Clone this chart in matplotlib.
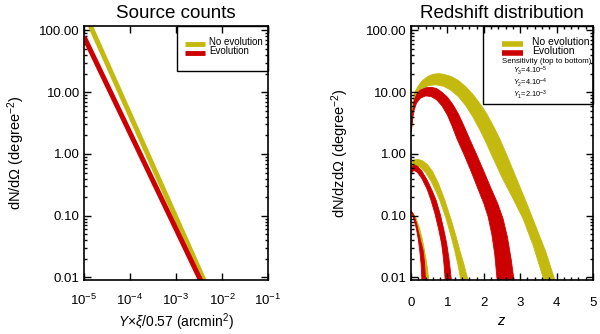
import numpy as np
import matplotlib
matplotlib.use("Agg")
import matplotlib.pyplot as plt
from matplotlib.patches import Rectangle
from matplotlib.ticker import FixedLocator, FixedFormatter, LogLocator, NullFormatter, MultipleLocator

plt.rcParams['font.family'] = ['Liberation Sans', 'DejaVu Sans']
plt.rcParams['mathtext.fontset'] = 'custom'
plt.rcParams['mathtext.rm'] = 'Liberation Sans'
plt.rcParams['mathtext.it'] = 'Liberation Sans:italic'
plt.rcParams['mathtext.bf'] = 'Liberation Sans:bold'

YELLOW = '#C4B90F'
RED = '#CC0000'

# ---------------- data: source counts (left) ----------------
flux_limits = [1e-5, 1e-2]            # Y x xi / 0.57 (arcmin^2)
counts_noevo = [202.0, 0.0020]        # dN/dOmega (deg^-2)
counts_evo = [79.0, 0.0017]

# ---------------- data: redshift distributions (right), log10 dN/dzdOmega ----------------
# Y3 = 4e-5 (top), no evolution
z3_ne_hi = [0.02, 0.05, 0.1, 0.2, 0.3, 0.45, 0.6, 0.75, 0.9, 1.1, 1.3, 1.5, 1.7, 1.9, 2.1, 2.3, 2.45, 2.64, 2.9, 3.2, 3.46, 3.7, 3.93, 4.05]
lg3_ne_hi = [0.55, 0.82, 0.99, 1.1, 1.18, 1.25, 1.29, 1.30, 1.29, 1.255, 1.19, 1.09, 0.965, 0.81, 0.63, 0.41, 0.23, -0.03, -0.40, -0.83, -1.22, -1.58, -2.0, -2.25]
z3_ne_lo = [0.02, 0.05, 0.1, 0.2, 0.35, 0.5, 0.68, 0.9, 1.1, 1.3, 1.5, 1.7, 1.9, 2.05, 2.25, 2.5, 2.8, 3.08, 3.35, 3.63, 3.72]
lg3_ne_lo = [0.5, 0.7, 0.86, 0.98, 1.07, 1.11, 1.12, 1.096, 1.03, 0.93, 0.785, 0.60, 0.38, 0.2, -0.06, -0.38, -0.72, -1.05, -1.47, -2.0, -2.2]
# Y3, evolution
z3_ev_hi = [0.01, 0.04, 0.08, 0.15, 0.25, 0.4, 0.55, 0.7, 0.85, 1.0, 1.15, 1.3, 1.45, 1.62, 1.81, 2.0, 2.2, 2.38, 2.53, 2.65, 2.75, 2.82, 2.86]
lg3_ev_hi = [0.36, 0.66, 0.84, 0.96, 1.03, 1.07, 1.08, 1.06, 1.0, 0.92, 0.80, 0.65, 0.46, 0.23, -0.02, -0.28, -0.56, -0.80, -1.05, -1.35, -1.7, -2.0, -2.2]
z3_ev_lo = [0.01, 0.04, 0.08, 0.15, 0.25, 0.4, 0.55, 0.7, 0.85, 1.0, 1.13, 1.26, 1.45, 1.65, 1.85, 2.0, 2.12, 2.22, 2.3, 2.36, 2.4]
lg3_ev_lo = [0.36, 0.55, 0.7, 0.82, 0.9, 0.94, 0.93, 0.88, 0.78, 0.63, 0.45, 0.25, 0.0, -0.28, -0.58, -0.8, -1.02, -1.3, -1.62, -2.0, -2.2]

# Y2 = 4e-4 (middle), no evolution
z2_ne_hi = [0.01, 0.05, 0.1, 0.19, 0.3, 0.45, 0.6, 0.75, 0.93, 1.1, 1.25, 1.34, 1.45, 1.57, 1.62]
lg2_ne_hi = [-0.2, -0.12, -0.095, -0.09, -0.105, -0.17, -0.29, -0.47, -0.75, -1.06, -1.36, -1.56, -1.78, -2.05, -2.2]
z2_ne_lo = [0.01, 0.05, 0.1, 0.15, 0.25, 0.4, 0.55, 0.68, 0.79, 0.95, 1.1, 1.2, 1.3, 1.37, 1.42]
lg2_ne_lo = [-0.25, -0.2, -0.19, -0.19, -0.21, -0.3, -0.44, -0.6, -0.75, -1.02, -1.33, -1.56, -1.82, -2.05, -2.2]
# Y2, evolution
z2_ev_hi = [0.01, 0.04, 0.1, 0.18, 0.3, 0.45, 0.6, 0.69, 0.8, 0.9, 0.98, 1.04, 1.08, 1.11, 1.13]
lg2_ev_hi = [-0.31, -0.2, -0.18, -0.2, -0.28, -0.43, -0.62, -0.75, -0.97, -1.22, -1.45, -1.68, -1.88, -2.05, -2.2]
z2_ev_lo = [0.01, 0.04, 0.1, 0.18, 0.3, 0.45, 0.55, 0.66, 0.76, 0.84, 0.89, 0.92, 0.94, 0.96]
lg2_ev_lo = [-0.33, -0.28, -0.27, -0.3, -0.4, -0.58, -0.75, -0.97, -1.22, -1.45, -1.68, -1.88, -2.05, -2.2]

# Y1 = 2e-3 (bottom), no evolution
z1_ne_hi = [0.01, 0.08, 0.15, 0.22, 0.3, 0.37, 0.44, 0.49, 0.52]
lg1_ne_hi = [-0.93, -0.98, -1.06, -1.18, -1.35, -1.56, -1.8, -2.05, -2.2]
z1_ne_lo = [0.01, 0.08, 0.15, 0.22, 0.28, 0.33, 0.38, 0.4]
lg1_ne_lo = [-0.95, -1.02, -1.13, -1.3, -1.5, -1.7, -2.05, -2.2]
# Y1, evolution
z1_ev_hi = [0.01, 0.05, 0.1, 0.15, 0.2, 0.26, 0.33, 0.37, 0.4, 0.42]
lg1_ev_hi = [-0.93, -0.96, -1.03, -1.12, -1.25, -1.4, -1.56, -1.75, -2.05, -2.2]
z1_ev_lo = [0.01, 0.05, 0.1, 0.15, 0.2, 0.24, 0.28, 0.3, 0.32]
lg1_ev_lo = [-0.95, -1.0, -1.1, -1.22, -1.38, -1.56, -1.8, -2.05, -2.2]

y_ticks = [0.01, 0.1, 1, 10, 100]
y_ticklabels = ['0.01', '0.10', '1.00', '10.00', '100.00']
x_ticks_left = [1e-5, 1e-4, 1e-3, 1e-2, 1e-1]
x_ticklabels_left = [r'10$^{-5}$', r'10$^{-4}$', r'10$^{-3}$', r'10$^{-2}$', r'10$^{-1}$']
z_ticks = [0, 1, 2, 3, 4, 5]

YMIN, YMAX = 0.0091, 118.0

fig = plt.figure(figsize=(6.0, 3.34), dpi=100)
axL = fig.add_axes([84 / 600, 1 - 280 / 334, 184 / 600, 254 / 334])
axR = fig.add_axes([411 / 600, 1 - 280 / 334, 182 / 600, 254 / 334])


def style_axis(ax):
    for s in ax.spines.values():
        s.set_linewidth(1.2)
    ax.tick_params(which='both', direction='in', top=True, right=True, width=1.0)
    ax.tick_params(which='major', length=5)
    ax.tick_params(which='minor', length=2.5)
    ax.tick_params(axis='y', labelsize=9.5, pad=3)
    ax.set_yscale('log')
    ax.set_ylim(YMIN, YMAX)
    ax.yaxis.set_major_locator(FixedLocator(y_ticks))
    ax.yaxis.set_major_formatter(FixedFormatter(y_ticklabels))
    ax.yaxis.set_minor_locator(LogLocator(base=10, subs=np.arange(2, 10)))
    ax.yaxis.set_minor_formatter(NullFormatter())


# ---------------- left panel ----------------
style_axis(axL)
axL.plot(flux_limits, counts_noevo, color=YELLOW, lw=3.6, solid_capstyle='butt')
axL.plot(flux_limits, counts_evo, color=RED, lw=3.6, solid_capstyle='butt')
axL.set_xscale('log')
axL.set_xlim(1e-5, 1e-1)
axL.xaxis.set_major_locator(FixedLocator(x_ticks_left))
axL.xaxis.set_major_formatter(FixedFormatter(x_ticklabels_left))
axL.xaxis.set_minor_locator(LogLocator(base=10, subs=np.arange(2, 10)))
axL.xaxis.set_minor_formatter(NullFormatter())
axL.tick_params(axis='x', labelsize=9.5, pad=9)
axL.set_title('Source counts', fontsize=13.5, pad=6)
axL.set_xlabel(r'$Y$$\times$$\xi$/0.57 (arcmin$^2$)', fontsize=10, labelpad=3)
axL.set_ylabel(r'dN/d$\Omega$ (degree$^{-2}$)', fontsize=10.5, labelpad=9)

axL.add_patch(Rectangle((0.505, 0.823), 0.495, 0.177, transform=axL.transAxes,
                        fill=False, ec='black', lw=1.0, clip_on=False, zorder=5))
axL.plot([0.549, 0.658], [0.929, 0.929], transform=axL.transAxes, color=YELLOW, lw=3.5, solid_capstyle='butt')
axL.plot([0.549, 0.658], [0.893, 0.893], transform=axL.transAxes, color=RED, lw=3.5, solid_capstyle='butt')
axL.text(0.68, 0.937, 'No evolution', transform=axL.transAxes, fontsize=7, va='center', ha='left')
axL.text(0.68, 0.902, 'Evolution', transform=axL.transAxes, fontsize=7, va='center', ha='left')

# ---------------- right panel ----------------
style_axis(axR)
axR.set_xlim(0, 5)
axR.xaxis.set_major_locator(FixedLocator(z_ticks))
axR.xaxis.set_minor_locator(MultipleLocator(0.2))
axR.tick_params(axis='x', labelsize=9.5, pad=12)
axR.set_title('Redshift distribution', fontsize=13.5, pad=6)
axR.set_xlabel(r'$z$', fontsize=10.5, labelpad=4)
axR.set_ylabel(r'dN/dzd$\Omega$ (degree$^{-2}$)', fontsize=10.5, labelpad=11)

bands = [
    (z3_ne_hi, lg3_ne_hi, z3_ne_lo, lg3_ne_lo, YELLOW),
    (z3_ev_hi, lg3_ev_hi, z3_ev_lo, lg3_ev_lo, RED),
    (z2_ne_hi, lg2_ne_hi, z2_ne_lo, lg2_ne_lo, YELLOW),
    (z2_ev_hi, lg2_ev_hi, z2_ev_lo, lg2_ev_lo, RED),
    (z1_ne_hi, lg1_ne_hi, z1_ne_lo, lg1_ne_lo, YELLOW),
    (z1_ev_hi, lg1_ev_hi, z1_ev_lo, lg1_ev_lo, RED),
]
for zh, lh, zl, ll, col in bands:
    xs = np.concatenate([zh, zl[::-1]])
    ys = 10 ** np.concatenate([lh, ll[::-1]])
    axR.fill(xs, ys, color=col, lw=0.6, ec=col)

axR.add_patch(Rectangle((0.396, 0.693), 0.604, 0.307, transform=axR.transAxes,
                        fill=False, ec='black', lw=1.0, clip_on=False, zorder=5))
axR.plot([0.50, 0.615], [0.929, 0.929], transform=axR.transAxes, color=YELLOW, lw=4.0, solid_capstyle='butt')
axR.plot([0.50, 0.615], [0.893, 0.893], transform=axR.transAxes, color=RED, lw=4.0, solid_capstyle='butt')
axR.text(0.665, 0.937, 'No evolution', transform=axR.transAxes, fontsize=7.5, va='center', ha='left')
axR.text(0.665, 0.902, 'Evolution', transform=axR.transAxes, fontsize=7.5, va='center', ha='left')
axR.text(0.50, 0.861, 'Sensitivity (top to bottom)', transform=axR.transAxes, fontsize=5.7, va='center', ha='left')
axR.text(0.56, 0.823, r'$Y_3$=4.10$^{-5}$', transform=axR.transAxes, fontsize=5.3, va='center', ha='left')
axR.text(0.56, 0.777, r'$Y_2$=4.10$^{-4}$', transform=axR.transAxes, fontsize=5.3, va='center', ha='left')
axR.text(0.56, 0.731, r'$Y_1$=2.10$^{-3}$', transform=axR.transAxes, fontsize=5.3, va='center', ha='left')

fig.savefig('out.png', dpi=100)
